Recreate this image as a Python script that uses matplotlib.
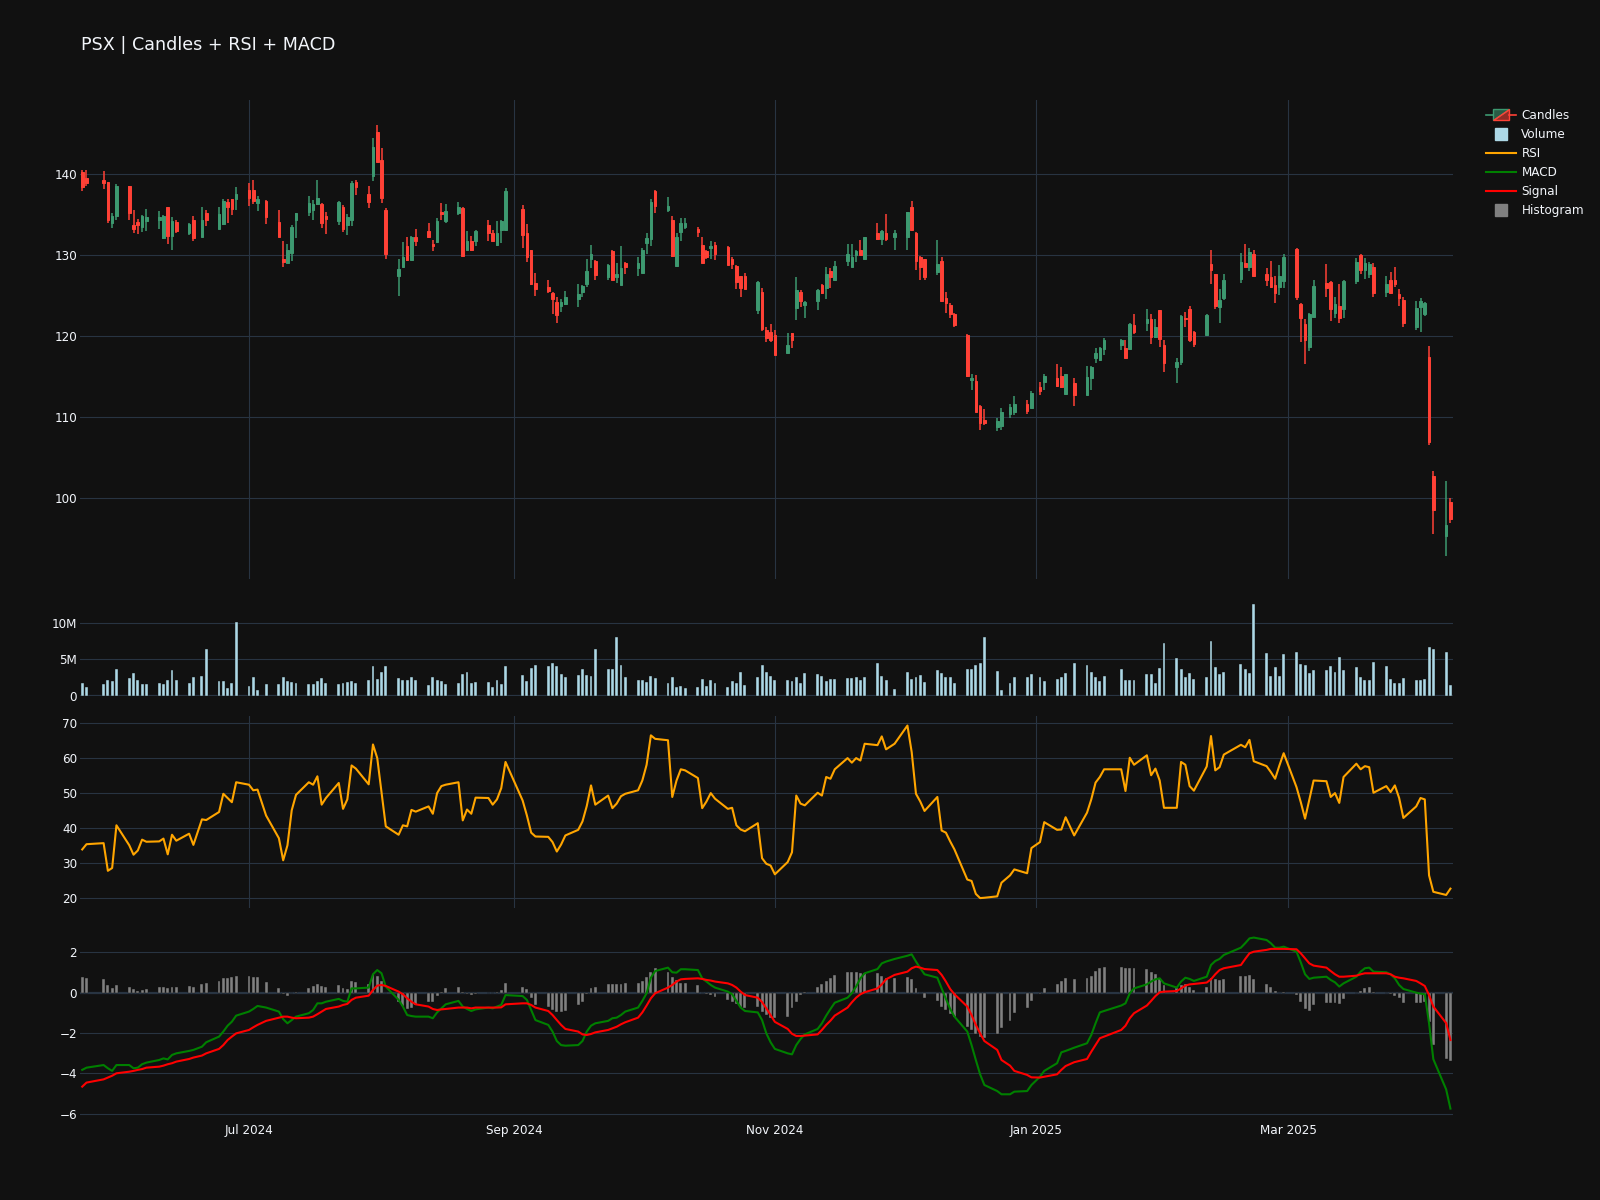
import numpy as np
import pandas as pd
import matplotlib
matplotlib.use("Agg")
import matplotlib.pyplot as plt
import matplotlib.dates as mdates
from matplotlib.legend_handler import HandlerBase
from matplotlib.patches import Polygon
from matplotlib.lines import Line2D
from matplotlib.colors import to_rgba

plt.rcParams["font.family"] = ["DejaVu Sans"]

TITLE = "PSX | Candles + RSI + MACD"

# ---------------- data ----------------
START, END = "2024-05-23", "2025-04-08"
HOLIDAYS = ["2024-05-27", "2024-06-19", "2024-07-04", "2024-09-02", "2024-11-28",
            "2024-12-25", "2025-01-01", "2025-01-09", "2025-01-20", "2025-02-17"]
dates = pd.bdate_range(START, END).difference(pd.to_datetime(HOLIDAYS))

open_ = [
    140.3, 139.5, 139.3, 139.1, 134.0, 134.8,
    138.6, 133.7, 134.1, 133.5, 134.2,
    134.3, 132.1, 135.9, 132.4, 134.1,
    132.7, 134.3, 132.2, 135.2,
    133.3, 133.9, 136.6, 137.0, 136.9,
    138.1, 138.1, 136.5, 136.7,
    134.1, 129.6, 129.0, 130.3, 134.3,
    135.4, 135.6, 136.3, 136.3, 134.8,
    134.2, 136.0, 133.7, 134.3, 139.1,
    137.6, 139.8, 145.2, 141.8, 135.6,
    127.5, 128.5, 131.1, 129.4, 132.3,
    133.0, 131.4, 131.6, 135.3, 134.2,
    135.2, 135.8, 130.7, 131.7, 131.7,
    133.7, 132.7, 131.3, 133.1, 133.1,
    135.7, 132.7, 130.7, 126.6,
    126.1, 125.4, 124.2, 123.7, 124.0,
    124.6, 125.5, 126.5, 129.5, 129.3,
    127.3, 130.5, 127.3, 126.3, 129.1,
    128.4, 127.8, 131.5, 132.0, 137.9,
    135.6, 134.4, 128.7, 132.9, 133.5,
    133.3, 131.3, 130.5, 130.9, 131.3,
    131.0, 129.6, 128.7, 127.4, 127.4,
    123.2, 125.5, 120.8, 120.5, 120.2,
    117.9, 120.4, 123.5, 125.5, 123.9,
    124.3, 126.3, 125.9, 128.0, 127.0,
    129.3, 128.6, 130.0, 130.6, 129.6,
    132.8, 132.0, 132.8, 132.2,
    132.3, 136.0, 132.8, 129.8, 129.5,
    127.9, 129.3, 124.7, 123.9, 122.8,
    120.1, 114.6, 114.5, 111.4, 109.7,
    108.8, 108.9, 110.4, 110.7,
    111.7, 111.1, 113.8, 114.3,
    114.8, 115.1, 112.9, 114.2,
    112.8, 114.9, 117.3, 117.1, 118.4,
    118.9, 118.5, 118.4, 121.4,
    121.6, 122.1, 119.9, 123.3, 118.9,
    116.2, 116.8, 122.3, 123.4, 120.5,
    120.1, 128.9, 127.7, 123.6, 124.7,
    127.1, 129.0, 128.6, 130.1,
    127.7, 127.3, 126.3, 126.1, 126.8,
    130.8, 124.0, 121.5, 118.7, 122.4,
    126.6, 126.7, 122.9, 123.7, 123.4,
    126.8, 130.0, 128.2, 127.7, 128.6,
    125.5, 126.9, 126.9, 125.2, 124.5,
    121.1, 123.6, 122.8, 117.5, 102.8,
    95.3, 99.6,
]
high = [
    140.5, 140.5, 140.4, 139.1, 135.2, 138.8,
    138.6, 135.6, 134.5, 135.0, 135.7,
    135.5, 135.0, 136.0, 134.7, 134.3,
    134.0, 134.8, 136.0, 135.6,
    135.9, 136.9, 136.9, 137.0, 138.4,
    138.9, 139.3, 137.3, 136.8,
    135.6, 131.8, 131.4, 133.7, 135.2,
    137.3, 136.8, 139.3, 136.4, 135.4,
    136.7, 136.2, 135.1, 139.2, 139.3,
    138.5, 144.5, 146.1, 143.2, 135.8,
    129.5, 131.6, 132.3, 132.4, 133.2,
    134.0, 131.9, 134.6, 136.4, 136.3,
    136.6, 135.9, 133.0, 132.4, 133.1,
    134.4, 133.1, 134.2, 134.4, 138.3,
    136.2, 133.9, 130.7, 127.8,
    127.0, 125.5, 124.9, 124.6, 125.6,
    126.4, 126.3, 129.5, 131.3, 129.4,
    128.9, 130.7, 129.0, 131.2, 129.2,
    129.8, 130.9, 132.7, 136.9, 138.1,
    137.2, 134.8, 132.8, 134.6, 134.6,
    133.5, 132.2, 130.7, 131.7, 131.6,
    131.1, 129.8, 128.8, 127.5, 127.8,
    126.8, 126.0, 121.1, 121.5, 120.8,
    120.4, 120.4, 127.3, 125.7, 124.4,
    125.8, 126.5, 128.5, 128.4, 129.3,
    131.4, 131.4, 130.7, 131.9, 132.3,
    134.0, 133.1, 135.1, 133.1,
    135.4, 136.7, 132.9, 129.9, 129.6,
    131.9, 129.8, 125.5, 124.1, 122.9,
    120.3, 115.4, 115.2, 111.5, 111.0,
    109.9, 111.1, 111.7, 112.6,
    112.1, 113.2, 114.4, 115.4,
    116.6, 116.2, 115.4, 114.8,
    116.3, 116.3, 118.6, 118.7, 119.8,
    119.7, 119.6, 121.6, 122.8,
    123.4, 122.8, 122.1, 123.3, 119.6,
    117.3, 122.6, 123.0, 123.7, 120.7,
    122.7, 130.7, 127.7, 125.8, 127.7,
    130.3, 131.4, 130.9, 130.6,
    128.4, 129.3, 127.5, 128.8, 130.2,
    130.9, 124.1, 122.1, 122.9, 127.0,
    128.9, 126.8, 124.8, 126.4, 127.0,
    129.7, 130.1, 129.7, 129.2, 129.0,
    127.5, 127.9, 128.6, 125.8, 124.9,
    124.4, 124.7, 124.2, 118.8, 103.4,
    102.1, 100.1,
]
low = [
    137.9, 138.5, 138.2, 134.0, 133.4, 134.4,
    134.3, 132.7, 132.6, 132.9, 133.0,
    133.3, 132.0, 131.4, 130.7, 132.7,
    132.5, 131.8, 132.2, 133.6,
    133.3, 133.7, 134.0, 135.0, 135.6,
    136.1, 136.3, 135.5, 133.9,
    132.3, 128.6, 129.0, 129.3, 132.1,
    134.8, 134.4, 136.2, 133.4, 132.6,
    133.7, 132.9, 132.5, 133.6, 137.4,
    135.8, 139.2, 141.5, 136.4, 129.6,
    125.0, 128.5, 129.3, 129.4, 131.1,
    132.1, 130.5, 131.5, 134.4, 134.0,
    135.0, 129.8, 130.6, 130.5, 131.1,
    131.8, 131.7, 131.1, 131.5, 133.0,
    130.9, 129.2, 126.3, 125.0,
    125.4, 122.8, 121.6, 123.0, 123.9,
    123.6, 124.9, 126.1, 128.4, 126.9,
    126.9, 126.9, 126.6, 126.3, 127.7,
    127.4, 127.8, 130.2, 131.1, 135.2,
    135.4, 129.8, 128.6, 131.8, 133.3,
    132.2, 129.0, 129.5, 129.6, 129.4,
    128.8, 128.3, 125.8, 124.8, 125.8,
    122.8, 120.7, 119.3, 119.3, 117.7,
    117.9, 118.5, 122.0, 123.6, 122.2,
    123.2, 125.2, 124.6, 126.0, 127.0,
    128.7, 128.5, 129.2, 130.0, 129.5,
    131.9, 131.3, 131.8, 130.7,
    130.7, 133.0, 128.2, 127.0, 127.0,
    127.6, 124.2, 122.9, 122.2, 121.2,
    115.0, 113.4, 110.7, 108.4, 109.1,
    108.3, 108.4, 109.9, 110.3,
    110.4, 111.1, 112.8, 113.4,
    113.8, 113.6, 112.8, 111.4,
    112.8, 113.4, 116.7, 117.0, 117.7,
    118.3, 117.3, 118.4, 120.3,
    120.7, 119.0, 119.8, 118.7, 115.6,
    114.2, 116.4, 121.2, 119.3, 118.7,
    120.0, 126.5, 123.4, 121.7, 124.5,
    126.6, 128.6, 128.1, 127.5,
    126.2, 125.9, 124.1, 125.1, 125.9,
    124.5, 119.3, 116.6, 118.2, 122.4,
    124.9, 121.9, 122.2, 121.7, 122.3,
    126.5, 127.7, 127.1, 127.2, 124.8,
    124.9, 125.3, 126.1, 123.7, 121.2,
    120.8, 120.5, 122.5, 106.6, 95.6,
    92.9, 97.0,
]
close = [
    138.4, 138.9, 138.9, 134.3, 134.8, 138.5,
    135.2, 133.2, 133.7, 134.8, 134.7,
    134.7, 134.8, 132.4, 134.2, 133.0,
    133.9, 132.1, 134.4, 134.3,
    135.1, 136.7, 136.0, 135.7, 137.6,
    137.1, 136.7, 136.9, 134.7,
    132.3, 129.2, 130.6, 133.5, 135.2,
    136.5, 136.3, 137.1, 134.0, 134.5,
    136.6, 133.3, 134.7, 138.9, 138.4,
    136.6, 143.4, 141.5, 137.1, 130.2,
    128.3, 129.8, 129.4, 132.2, 131.8,
    132.2, 131.1, 134.2, 135.1, 135.5,
    135.9, 129.9, 131.7, 130.7, 133.0,
    132.7, 131.8, 132.7, 134.2, 137.9,
    132.5, 129.8, 126.5, 125.8,
    125.6, 124.6, 122.6, 124.2, 124.9,
    125.2, 126.2, 128.1, 130.2, 127.6,
    128.8, 127.0, 127.7, 128.4, 128.6,
    129.1, 130.7, 132.1, 136.6, 136.1,
    136.1, 129.9, 132.3, 134.0, 134.0,
    132.9, 129.0, 129.8, 131.1, 130.2,
    128.8, 128.9, 126.7, 126.0, 125.8,
    126.7, 120.9, 119.8, 119.6, 117.7,
    118.9, 119.5, 125.7, 124.3, 124.2,
    125.7, 125.3, 127.7, 127.3, 128.7,
    130.2, 129.8, 130.5, 130.0, 132.2,
    132.0, 133.0, 132.0, 132.8,
    135.3, 133.1, 129.3, 128.5, 127.3,
    128.9, 124.4, 124.1, 122.8, 121.4,
    115.1, 114.9, 110.7, 109.3, 109.3,
    109.6, 110.7, 111.3, 111.7,
    110.8, 113.0, 113.3, 115.1,
    113.9, 113.7, 115.3, 112.8,
    115.0, 116.2, 118.0, 118.6, 119.5,
    119.5, 117.3, 121.5, 120.5,
    122.1, 119.9, 121.2, 119.7, 116.7,
    116.8, 122.5, 122.1, 119.5, 119.1,
    122.6, 128.2, 123.7, 124.5, 126.9,
    129.2, 128.6, 130.4, 127.5,
    126.9, 126.1, 125.3, 127.4, 129.8,
    124.8, 122.2, 119.6, 122.8, 126.2,
    126.0, 123.4, 124.0, 122.3, 126.8,
    129.2, 128.2, 129.0, 128.9, 125.4,
    126.5, 125.4, 126.4, 124.7, 121.6,
    123.5, 124.4, 124.1, 107.0, 98.6,
    96.7, 97.4,
]
volume_m = [
    1.7, 1.2, 1.6, 2.2, 2.0, 3.6,
    2.4, 3.1, 2.2, 1.6, 1.6,
    1.8, 1.6, 2.2, 3.5, 2.1,
    1.7, 2.5, 2.7, 6.4,
    2.0, 2.0, 1.1, 1.8, 10.1,
    1.3, 2.6, 0.8, 1.6,
    1.6, 2.6, 2.0, 1.9, 1.8,
    1.6, 1.6, 2.0, 2.4, 1.8,
    1.6, 1.7, 1.9, 2.0, 1.7,
    2.1, 4.0, 2.3, 3.3, 4.1,
    2.4, 2.1, 2.2, 2.5, 2.1,
    1.4, 2.5, 2.1, 2.0, 1.6,
    1.8, 3.0, 3.3, 1.8, 1.9,
    1.9, 1.2, 2.1, 1.6, 4.0,
    2.8, 2.0, 3.8, 4.2,
    4.1, 4.5, 4.0, 3.0, 2.6,
    2.9, 3.7, 2.9, 2.7, 6.4,
    3.6, 3.6, 8.1, 4.2, 2.5,
    2.1, 2.1, 1.9, 2.7, 2.4,
    1.7, 2.5, 1.2, 1.3, 1.1,
    1.2, 2.3, 1.3, 2.2, 1.7,
    1.2, 2.0, 1.8, 3.2, 1.4,
    2.5, 4.2, 3.3, 2.7, 2.1,
    2.2, 2.0, 2.6, 1.7, 3.1,
    3.0, 2.7, 2.0, 2.3, 2.3,
    2.4, 2.4, 2.5, 2.2, 2.5,
    4.5, 2.7, 2.2, 0.9,
    3.3, 2.3, 2.5, 2.9, 1.9,
    3.5, 3.1, 2.6, 2.6, 1.8,
    3.6, 3.6, 4.2, 4.5, 8.1,
    3.4, 0.8, 1.8, 2.5,
    2.5, 3.0, 2.5, 2.0,
    2.3, 2.5, 3.1, 4.5,
    4.2, 3.3, 2.6, 2.0, 2.7,
    3.6, 2.2, 2.2, 2.2,
    3.0, 3.0, 1.7, 3.8, 7.2,
    5.2, 3.7, 2.5, 3.1, 2.3,
    2.5, 7.5, 3.9, 3.0, 3.3,
    4.4, 3.6, 3.1, 12.5,
    5.8, 2.7, 3.9, 2.7, 5.7,
    6.0, 4.3, 4.2, 3.1, 3.5,
    3.5, 4.1, 3.2, 5.3, 3.5,
    3.9, 2.6, 2.2, 2.2, 4.6,
    4.0, 2.3, 1.7, 1.7, 2.4,
    2.2, 2.1, 2.3, 6.7, 6.4,
    6.0, 1.5,
]
rsi = [
    33.8, 35.3, 35.6, 27.7, 28.5, 40.7,
    35.0, 32.3, 33.5, 36.6, 36.0,
    36.1, 36.9, 32.4, 38.0, 36.3,
    38.3, 35.1, 42.4, 42.2,
    44.5, 49.7, 48.5, 47.3, 53.0,
    52.3, 50.7, 50.9, 43.5,
    37.0, 30.7, 35.0, 45.0, 49.4,
    53.0, 52.3, 54.7, 46.6, 48.5,
    52.8, 45.4, 48.1, 57.8, 56.9,
    52.4, 63.8, 59.9, 50.2, 40.4,
    38.0, 40.7, 40.4, 45.1, 44.6,
    46.1, 44.0, 49.9, 51.9, 52.3,
    53.0, 42.1, 45.2, 44.0, 48.6,
    48.5, 46.6, 48.1, 51.3, 58.8,
    47.8, 43.5, 38.6, 37.5,
    37.4, 35.9, 33.2, 35.2, 37.8,
    39.4, 41.8, 46.2, 52.1, 46.6,
    49.2, 45.6, 46.9, 49.0, 49.7,
    50.7, 53.5, 58.0, 66.4, 65.4,
    65.0, 48.8, 53.5, 56.7, 56.4,
    54.2, 45.6, 47.5, 49.9, 48.3,
    45.4, 45.7, 40.7, 39.5, 39.0,
    41.3, 31.3, 29.7, 29.2, 26.7,
    30.2, 33.0, 49.2, 46.9, 46.4,
    50.0, 49.2, 54.5, 54.0, 56.7,
    59.9, 58.6, 59.9, 59.2, 64.0,
    63.6, 66.1, 62.4, 64.0,
    69.2, 61.6, 49.7, 47.5, 44.8,
    48.8, 39.2, 38.6, 36.1, 33.8,
    25.2, 24.8, 21.1, 19.9, 20.0,
    20.4, 24.3, 26.4, 28.1,
    27.0, 34.2, 35.9, 41.6,
    39.4, 39.5, 43.0, 37.8,
    44.3, 48.1, 52.9, 54.5, 56.7,
    56.7, 50.5, 60.0, 58.0,
    60.7, 55.0, 56.9, 53.5, 45.7,
    45.7, 58.8, 58.0, 51.9, 50.6,
    57.5, 66.2, 56.4, 57.3, 60.9,
    63.7, 63.0, 65.1, 59.0,
    57.6, 55.9, 54.0, 57.8, 61.3,
    51.6, 47.3, 42.6, 48.1, 53.5,
    53.3, 48.8, 49.9, 47.1, 54.5,
    58.3, 56.7, 57.6, 57.3, 50.0,
    51.9, 50.2, 52.1, 48.5, 42.8,
    46.1, 48.5, 48.1, 26.4, 21.7,
    20.8, 22.6,
]
macd = [
    -3.83, -3.72, -3.59, -3.75, -3.88, -3.59,
    -3.59, -3.75, -3.72, -3.55, -3.47,
    -3.34, -3.26, -3.31, -3.09, -3.01,
    -2.89, -2.84, -2.68, -2.46,
    -2.18, -1.93, -1.64, -1.44, -1.14,
    -0.94, -0.81, -0.66, -0.74,
    -0.94, -1.31, -1.52, -1.36, -1.19,
    -1.02, -0.86, -0.53, -0.53, -0.45,
    -0.31, -0.41, -0.45, 0.21, 0.21,
    0.25, 0.91, 1.12, 0.96, 0.30,
    -0.36, -0.69, -1.11, -1.16, -1.19,
    -1.19, -1.27, -0.98, -0.78, -0.58,
    -0.41, -0.69, -0.81, -0.91, -0.83,
    -0.74, -0.78, -0.69, -0.61, -0.12,
    -0.17, -0.36, -0.86, -1.36,
    -1.60, -1.93, -2.40, -2.60, -2.63,
    -2.60, -2.40, -1.93, -1.64, -1.52,
    -1.40, -1.27, -1.24, -1.11, -0.94,
    -0.74, -0.41, -0.03, 0.74, 1.07,
    1.24, 1.01, 0.99, 1.16, 1.16,
    1.12, 0.71, 0.55, 0.38, 0.25,
    0.05, -0.08, -0.41, -0.74, -0.91,
    -0.98, -1.36, -2.02, -2.46, -2.79,
    -3.01, -3.06, -2.60, -2.30, -2.07,
    -1.80, -1.52, -1.14, -0.81, -0.50,
    -0.25, -0.03, 0.30, 0.71, 0.96,
    1.17, 1.45, 1.54, 1.67,
    1.83, 1.90, 1.54, 1.21, 0.91,
    0.74, 0.21, -0.31, -0.81, -1.19,
    -1.93, -2.60, -3.34, -4.05, -4.58,
    -4.88, -5.04, -5.04, -4.91,
    -4.88, -4.58, -4.17, -3.88,
    -3.50, -2.96, -2.89, -2.73,
    -2.51, -2.10, -1.52, -0.98, -0.91,
    -0.64, -0.53, -0.03, 0.21,
    0.41, 0.55, 0.66, 0.71, 0.46,
    0.25, 0.55, 0.74, 0.68, 0.58,
    0.79, 1.37, 1.57, 1.67, 1.87,
    2.23, 2.45, 2.69, 2.73,
    2.61, 2.45, 2.23, 2.23, 2.28,
    2.03, 1.50, 0.91, 0.68, 0.74,
    0.79, 0.63, 0.51, 0.30, 0.46,
    0.79, 1.04, 1.21, 1.24, 1.04,
    1.01, 0.91, 0.71, 0.38, 0.18,
    0.00, -0.05, -0.08, -1.52, -3.30,
    -4.80, -5.75,
]
signal = [
    -4.66, -4.46, -4.30, -4.21, -4.12, -4.00,
    -3.92, -3.88, -3.83, -3.79, -3.72,
    -3.67, -3.62, -3.55, -3.50, -3.42,
    -3.29, -3.22, -3.12, -3.01,
    -2.79, -2.60, -2.35, -2.18, -2.02,
    -1.85, -1.72, -1.60, -1.40,
    -1.24, -1.19, -1.19, -1.24, -1.27,
    -1.24, -1.19, -1.07, -0.94, -0.81,
    -0.69, -0.61, -0.56, -0.36, -0.25,
    -0.15, 0.13, 0.35, 0.38, 0.33,
    0.05, -0.08, -0.28, -0.45, -0.58,
    -0.69, -0.81, -0.86, -0.83, -0.81,
    -0.74, -0.74, -0.74, -0.78, -0.74,
    -0.74, -0.74, -0.74, -0.73, -0.58,
    -0.53, -0.53, -0.61, -0.74,
    -0.91, -1.11, -1.36, -1.60, -1.80,
    -1.93, -2.07, -2.10, -2.05, -1.97,
    -1.85, -1.77, -1.69, -1.57, -1.47,
    -1.24, -0.98, -0.64, -0.28, -0.03,
    0.25, 0.38, 0.55, 0.66, 0.68,
    0.71, 0.68, 0.63, 0.60, 0.55,
    0.46, 0.38, 0.25, 0.05, -0.12,
    -0.25, -0.47, -0.78, -1.12, -1.45,
    -1.80, -2.04, -2.15, -2.15, -2.13,
    -2.07, -1.85, -1.60, -1.39, -1.14,
    -0.74, -0.48, -0.25, -0.08, 0.02,
    0.21, 0.41, 0.66, 0.88,
    1.04, 1.21, 1.29, 1.24, 1.17,
    1.12, 0.88, 0.55, 0.18, -0.08,
    -0.69, -1.11, -1.60, -2.02, -2.40,
    -2.84, -3.34, -3.62, -3.88,
    -4.08, -4.20, -4.21, -4.17,
    -4.05, -3.83, -3.64, -3.45,
    -3.29, -2.93, -2.60, -2.26, -2.18,
    -1.85, -1.64, -1.27, -1.02,
    -0.64, -0.41, -0.17, 0.02, 0.05,
    0.08, 0.21, 0.35, 0.41, 0.43,
    0.50, 0.66, 0.91, 1.12, 1.21,
    1.37, 1.67, 1.95, 2.03,
    2.12, 2.17, 2.17, 2.17, 2.17,
    2.15, 1.95, 1.70, 1.45, 1.34,
    1.24, 1.07, 0.91, 0.79, 0.79,
    0.84, 0.91, 0.96, 0.96, 0.96,
    0.96, 0.91, 0.79, 0.74, 0.71,
    0.58, 0.46, 0.33, -0.12, -0.69,
    -1.51, -2.35,
]
hist = [
    0.76, 0.74, 0.68, 0.38, 0.25, 0.38,
    0.30, 0.18, 0.10, 0.13, 0.18,
    0.26, 0.30, 0.25, 0.30, 0.30,
    0.33, 0.30, 0.41, 0.50,
    0.58, 0.71, 0.74, 0.76, 0.83,
    0.83, 0.79, 0.76, 0.55,
    0.25, -0.07, -0.17, -0.03, 0.02,
    0.21, 0.33, 0.41, 0.35, 0.30,
    0.38, 0.21, 0.17, 0.58, 0.51,
    0.41, 0.91, 0.84, 0.58, 0.00,
    -0.45, -0.64, -0.81, -0.74, -0.61,
    -0.48, -0.45, -0.15, 0.05, 0.21,
    0.30, 0.02, -0.07, -0.12, -0.07,
    0.00, -0.03, 0.05, 0.13, 0.46,
    0.30, 0.17, -0.28, -0.61,
    -0.69, -0.86, -0.98, -0.98, -0.91,
    -0.61, -0.45, -0.08, 0.25, 0.30,
    0.41, 0.41, 0.41, 0.43, 0.46,
    0.50, 0.58, 0.79, 1.04, 1.21,
    1.01, 0.79, 0.63, 0.50, 0.50,
    0.38, 0.00, -0.07, -0.12, -0.20,
    -0.36, -0.45, -0.56, -0.69, -0.78,
    -0.69, -0.94, -1.11, -1.24, -1.27,
    -1.19, -0.78, -0.45, -0.12, 0.05,
    0.30, 0.41, 0.58, 0.74, 0.88,
    1.01, 1.01, 1.01, 0.96, 0.96,
    0.96, 0.84, 0.74, 0.71,
    0.79, 0.68, 0.25, -0.03, -0.28,
    -0.41, -0.69, -0.86, -1.07, -1.19,
    -1.69, -1.85, -2.07, -2.18, -2.26,
    -2.07, -1.74, -1.40, -1.02,
    -0.74, -0.41, -0.08, 0.25,
    0.41, 0.58, 0.71, 0.66,
    0.74, 0.84, 1.07, 1.21, 1.26,
    1.26, 1.21, 1.21, 1.21,
    1.16, 1.01, 0.91, 0.74, 0.38,
    0.21, 0.38, 0.41, 0.26, 0.13,
    0.26, 0.74, 0.68, 0.63, 0.66,
    0.83, 0.83, 0.88, 0.66,
    0.45, 0.26, 0.08, 0.00, 0.05,
    -0.12, -0.45, -0.81, -0.91, -0.61,
    -0.53, -0.53, -0.53, -0.58, -0.31,
    -0.03, 0.10, 0.21, 0.26, 0.05,
    0.00, -0.07, -0.15, -0.28, -0.53,
    -0.53, -0.53, -0.45, -1.46, -2.60,
    -3.30, -3.40,
]

# ---------------- style ----------------
BG = "#111111"
GRID = "#283442"
FG = "#f2f5fa"
INC = "#3D9970"
DEC = "#FF4136"
VOL_C = "#ADD8E6"
RSI_C = "#FFA500"
MACD_C = "#008000"
SIG_C = "#FF0000"
HIST_C = "#808080"
FS = 8.64  # 12 px

x = mdates.date2num(dates.to_pydatetime())
o = np.array(open_); h = np.array(high); l = np.array(low); c = np.array(close)

fig = plt.figure(figsize=(16, 12), dpi=100, facecolor=BG)
L, W = 80 / 1600, 1373 / 1600


def px_box(top, bottom):
    return [L, 1 - bottom / 1200, W, (bottom - top) / 1200]


ax_c = fig.add_axes(px_box(100, 579.4))
ax_v = fig.add_axes(px_box(599.8, 695.7), sharex=ax_c)
ax_r = fig.add_axes(px_box(716.1, 907.9), sharex=ax_c)
ax_m = fig.add_axes(px_box(928.3, 1120.1), sharex=ax_c)

for ax in (ax_c, ax_v, ax_r, ax_m):
    ax.set_facecolor(BG)
    for s in ax.spines.values():
        s.set_visible(False)
    ax.tick_params(length=0, labelcolor=FG, labelsize=FS, pad=2)
    ax.grid(True, axis="y", color=GRID, lw=0.8, zorder=0)
    ax.set_axisbelow(True)

# candles
up = c >= o
cols = np.where(up, INC, DEC)
ax_c.vlines(x, l, h, colors=cols, lw=1.1, zorder=2)
ax_c.bar(x, np.abs(c - o), bottom=np.minimum(o, c), width=0.62, color=cols,
         edgecolor=cols, linewidth=0.7, zorder=3)
ax_c.set_ylim(90.0, 149.16)
ax_c.set_yticks([100, 110, 120, 130, 140])

# volume
vol = np.array(volume_m) * 1e6
ax_v.bar(x, vol, width=0.68, color=VOL_C, edgecolor=BG, linewidth=0.3, zorder=3)
ax_v.set_ylim(0, 13.13e6)
ax_v.set_yticks([0, 5e6, 10e6])
ax_v.set_yticklabels(["0", "5M", "10M"])
ax_v.axhline(0, color=GRID, lw=1.6, zorder=1)

# RSI
ax_r.plot(x, rsi, color=RSI_C, lw=1.5, zorder=3)
ax_r.set_ylim(17.1, 71.9)
ax_r.set_yticks([20, 30, 40, 50, 60, 70])

# MACD
ax_m.bar(x, hist, width=0.68, color=HIST_C, edgecolor=BG, linewidth=0.3, zorder=2)
ax_m.plot(x, macd, color=MACD_C, lw=1.5, zorder=3)
ax_m.plot(x, signal, color=SIG_C, lw=1.5, zorder=3)
ax_m.axhline(0, color=GRID, lw=1.6, zorder=1)
ax_m.set_ylim(-6.32, 3.19)
ax_m.set_yticks([-6, -4, -2, 0, 2])
ax_m.set_yticklabels(["\u22126", "\u22124", "\u22122", "0", "2"])

# x axis
x_lo = x[0] - 0.52
x_hi = x[-1] + 0.6
ax_m.set_xlim(x_lo, x_hi)
ax_m.xaxis.set_major_locator(mdates.MonthLocator(bymonth=[1, 3, 5, 7, 9, 11]))
ax_m.xaxis.set_major_formatter(mdates.DateFormatter("%b %Y"))
for ax in (ax_c, ax_r):
    ax.grid(True, axis="x", color=GRID, lw=0.8, zorder=0)
for ax in (ax_c, ax_v, ax_r):
    ax.tick_params(labelbottom=False)
ax_m.tick_params(axis="x", pad=3)

# title
fig.text(80.6 / 1600, 1 - 45 / 1200, TITLE, fontsize=12.6, color=FG,
         ha="left", va="center")


# legend
class CandleProxy:
    pass


class CandleHandler(HandlerBase):
    def create_artists(self, legend, orig_handle, xdescent, ydescent, width,
                       height, fontsize, trans):
        x0, y0 = -xdescent, -ydescent
        cy = y0 + height / 2
        bx0 = x0 + width * 0.22
        bx1 = x0 + width * 0.78
        half = height * 0.6
        by0, by1 = cy - half, cy + half
        p1 = Polygon([[bx0, by0], [bx0, by1], [bx1, by1]], closed=True,
                     facecolor=to_rgba(INC, 0.55), edgecolor=INC, lw=1.0,
                     transform=trans)
        p2 = Polygon([[bx0, by0], [bx1, by0], [bx1, by1]], closed=True,
                     facecolor=to_rgba(DEC, 0.55), edgecolor=DEC, lw=1.0,
                     transform=trans)
        w1 = Line2D([x0, bx0], [cy, cy], color=INC, lw=1.2, transform=trans)
        w2 = Line2D([bx1, x0 + width], [cy, cy], color=DEC, lw=1.2,
                    transform=trans)
        return [w1, w2, p1, p2]


handles = [
    CandleProxy(),
    Line2D([], [], ls="None", marker="s", markersize=8, markerfacecolor=VOL_C,
           markeredgecolor=VOL_C),
    Line2D([], [], color=RSI_C, lw=1.5),
    Line2D([], [], color=MACD_C, lw=1.5),
    Line2D([], [], color=SIG_C, lw=1.5),
    Line2D([], [], ls="None", marker="s", markersize=8, markerfacecolor=HIST_C,
           markeredgecolor=HIST_C),
]
labels = ["Candles", "Volume", "RSI", "MACD", "Signal", "Histogram"]
fig.legend(handles, labels, loc="upper left",
           bbox_to_anchor=(1486 / 1600, 1 - 109 / 1200),
           frameon=False, fontsize=FS, labelcolor=FG, handlelength=2.5,
           handleheight=0.8, handletextpad=0.45, labelspacing=0.5,
           borderpad=0, borderaxespad=0,
           handler_map={CandleProxy: CandleHandler()})

fig.savefig("out.png", dpi=100, facecolor=BG)
